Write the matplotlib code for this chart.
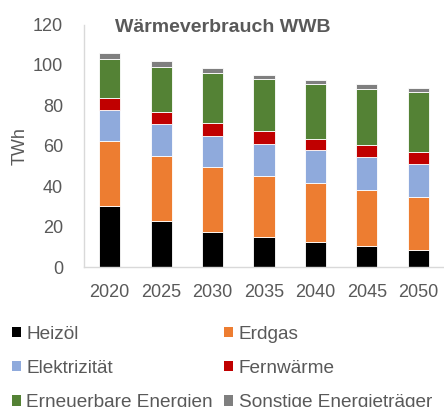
import numpy as np
import matplotlib
matplotlib.use("Agg")
import matplotlib.pyplot as plt
from matplotlib.patches import Patch

plt.rcParams['font.family'] = ['Liberation Sans', 'DejaVu Sans']

# data (TWh)
years = ['2020', '2025', '2030', '2035', '2040', '2045', '2050']
heizoel = [30.2, 22.6, 17.5, 14.9, 12.4, 10.2, 8.3]
erdgas = [32.2, 32.4, 31.8, 30.3, 29.2, 27.8, 26.5]
elektrizitaet = [15.5, 15.6, 15.7, 15.7, 16.3, 16.3, 16.4]
fernwaerme = [5.6, 6.3, 6.1, 6.3, 5.6, 6.1, 5.6]
erneuerbare = [19.3, 21.9, 24.8, 26.0, 27.1, 27.6, 29.8]
sonstige = [3.3, 3.0, 2.4, 2.0, 2.0, 2.6, 1.8]

series = [
    ('Heizöl', heizoel, '#000000'),
    ('Erdgas', erdgas, '#ED7D31'),
    ('Elektrizität', elektrizitaet, '#8FAADC'),
    ('Fernwärme', fernwaerme, '#C00000'),
    ('Erneuerbare Energien', erneuerbare, '#548235'),
    ('Sonstige Energieträger', sonstige, '#7F7F7F'),
]

txt = '#595959'
fs = 13

fig = plt.figure(figsize=(4.44, 4.07), dpi=100)
ax = fig.add_axes([84 / 444, 1 - 267 / 407, 360 / 444, 242.5 / 407])

x = np.arange(len(years))
bottom = np.zeros(len(years))
handles = {}
for name, vals, col in series:
    bars = ax.bar(x, vals, 0.41, bottom=bottom, color=col, edgecolor='white', linewidth=0.6)
    bottom += np.array(vals)
    handles[name] = Patch(facecolor=col, edgecolor='none')

ax.set_xlim(-0.5, 6.5)
ax.set_ylim(0, 120)
ax.set_yticks(range(0, 121, 20))
ax.set_xticks(x)
ax.set_xticklabels(years)
ax.tick_params(length=0, colors=txt, labelsize=fs)
ax.tick_params(axis='y', pad=15)
ax.tick_params(axis='x', pad=12)
for s in ['top', 'right']:
    ax.spines[s].set_visible(False)
for s in ['left', 'bottom']:
    ax.spines[s].set_color('#D9D9D9')
    ax.spines[s].set_linewidth(1.0)

ax.set_ylabel('TWh', color=txt, fontsize=fs, labelpad=3)
ax.text(0.386, 0.988, 'Wärmeverbrauch WWB', transform=ax.transAxes, ha='center', va='center',
        fontsize=14, fontweight='bold', color=txt)

order = ['Heizöl', 'Elektrizität', 'Erneuerbare Energien', 'Erdgas', 'Fernwärme', 'Sonstige Energieträger']
leg = fig.legend([handles[n] for n in order], order, loc='upper left',
                 bbox_to_anchor=(12 / 444, 1 - 326 / 407), ncol=2, frameon=False,
                 fontsize=13.7, handlelength=0.45, handleheight=0.45, handletextpad=0.3,
                 columnspacing=0.6, labelspacing=0.9, borderpad=0, borderaxespad=0)
for t in leg.get_texts():
    t.set_color(txt)

fig.savefig('out.png', dpi=100)
